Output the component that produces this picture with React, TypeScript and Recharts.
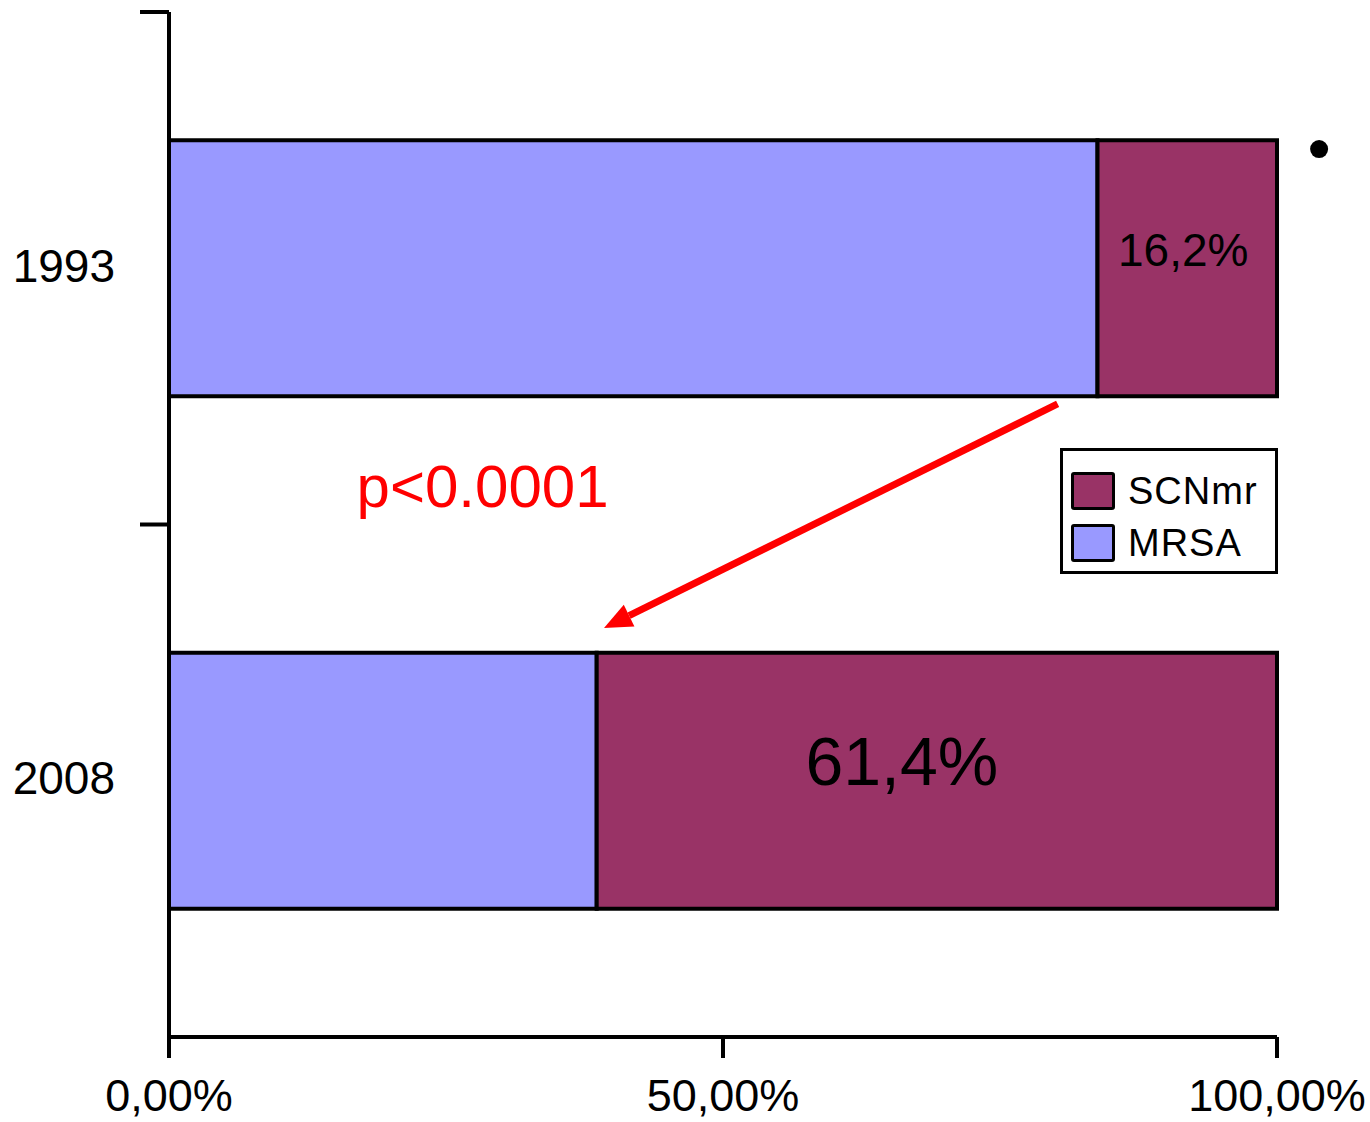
import React from 'react';
import * as Recharts from 'recharts';
import {
  BarChart,
  Bar,
  XAxis,
  YAxis,
  LabelList,
  ReferenceLine,
} from 'recharts';

// Share of isolates per study year (percent)
const years = ['1993', '2008'];
const mrsa = [83.8, 38.6];
const scnmr = [16.2, 61.4];
const xTicks = [0, 50, 100];
const seriesNames = ['SCNmr', 'MRSA'];
const pValueText = 'p<0.0001';

const rows = years.map((year, i) => ({ year, MRSA: mrsa[i], SCNmr: scnmr[i] }));

const FONT = '"Liberation Sans", Arial, sans-serif';
const MRSA_COLOR = '#9999FF';
const SCNMR_COLOR = '#993366';
const seriesColors: Record<string, string> = { SCNmr: SCNMR_COLOR, MRSA: MRSA_COLOR };

// per-row label styling
const labelSize = [46, 68];
const labelDx = [-4, -35];
const labelDy = [-18, -20];

const pct = (v: number) => `${v.toFixed(2).replace('.', ',')}%`;
const pctShort = (v: number) => `${v.toFixed(1).replace('.', ',')}%`;

const SegmentLabel = (props: any) => {
  const { x, y, width, height, value, index } = props;
  return (
    <text
      x={x + width / 2 + labelDx[index]}
      y={y + height / 2 + labelDy[index]}
      textAnchor="middle"
      dominantBaseline="central"
      fontFamily={FONT}
      fontSize={labelSize[index]}
      fill="#000"
    >
      {pctShort(value)}
    </text>
  );
};

// Small tick marks at the category boundaries, left of the value axis
const BoundaryTick = (props: any) => {
  const { x1, y1, x2, y2 } = props;
  if ([x1, y1, x2, y2].some((v) => typeof v !== 'number')) return null;
  return <line x1={x1 - 29} y1={y1} x2={x1} y2={y1} stroke="#000" strokeWidth={4} />;
};

const useArea = () => {
  const R: any = Recharts;
  const plot = R.usePlotArea ? R.usePlotArea() : null;
  const off = !plot && R.useOffset ? R.useOffset() : null;
  if (plot) return { x: plot.x, y: plot.y, w: plot.width, h: plot.height };
  if (off) return { x: off.left, y: off.top, w: off.width, h: off.height };
  return null;
};

// Annotation layer: significance text, arrow between the two years, bullet mark
const Annotations = () => {
  const a = useArea();
  if (!a) return null;
  const px = (f: number) => a.x + f * a.w;
  const py = (f: number) => a.y + f * a.h;
  const x1 = px(0.802), y1 = py(0.3824);
  const x2 = px(0.3926), y2 = py(0.601);
  const ang = Math.atan2(y2 - y1, x2 - x1);
  const len = 28, half = 12;
  const bx = x2 - len * Math.cos(ang);
  const by = y2 - len * Math.sin(ang);
  const nx = -Math.sin(ang) * half;
  const ny = Math.cos(ang) * half;
  return (
    <g>
      <line x1={x1} y1={y1} x2={bx} y2={by} stroke="#FF0000" strokeWidth={7} />
      <polygon points={`${x2},${y2} ${bx + nx},${by + ny} ${bx - nx},${by - ny}`} fill="#FF0000" />
      <text
        x={px(0.283)}
        y={py(0.4625)}
        textAnchor="middle"
        dominantBaseline="central"
        fontFamily={FONT}
        fontSize={60}
        fill="#FF0000"
      >
        {pValueText}
      </text>
      <circle cx={px(1.038)} cy={py(0.1337)} r={9} fill="#000" />
    </g>
  );
};

const LegendBox = () => (
  <div
    style={{
      position: 'absolute',
      left: 1060,
      top: 448,
      width: 218,
      height: 126,
      border: '3px solid #000',
      background: '#fff',
      boxSizing: 'border-box',
      padding: '14px 0 0 8px',
      fontFamily: FONT,
    }}
  >
    {seriesNames.map((name) => (
      <div key={name} style={{ display: 'flex', alignItems: 'center', height: 52 }}>
        <div
          style={{
            width: 44,
            height: 38,
            background: seriesColors[name],
            border: '3px solid #000',
            borderRadius: 3,
            boxSizing: 'border-box',
            marginRight: 13,
          }}
        />
        <span style={{ fontSize: 38, letterSpacing: 1, color: '#000', lineHeight: 1 }}>{name}</span>
      </div>
    ))}
  </div>
);

export default function App() {
  return (
    <div style={{ position: 'absolute', left: 0, top: 0, width: 1370, height: 1122, background: '#fff' }}>
      <BarChart
        width={1370}
        height={1122}
        data={rows}
        layout="vertical"
        margin={{ top: 12, right: 93, bottom: 0, left: 0 }}
        barCategoryGap="25%"
      >
        <XAxis
          type="number"
          domain={[0, 100]}
          ticks={xTicks}
          tickFormatter={pct}
          axisLine={{ stroke: '#000', strokeWidth: 4 }}
          tickLine={{ stroke: '#000', strokeWidth: 4 }}
          tickSize={21}
          tickMargin={21}
          height={85}
          tick={{ fill: '#000', fontSize: 45, fontFamily: FONT }}
          interval={0}
        />
        <YAxis
          type="category"
          dataKey="year"
          width={169}
          axisLine={{ stroke: '#000', strokeWidth: 4 }}
          tickLine={false}
          tickSize={0}
          tickMargin={54}
          tick={{ fill: '#000', fontSize: 46, fontFamily: FONT, dy: -3 }}
        />
        <Bar
          dataKey="MRSA"
          stackId="s"
          fill={MRSA_COLOR}
          stroke="#000"
          strokeWidth={4}
          isAnimationActive={false}
        />
        <Bar
          dataKey="SCNmr"
          stackId="s"
          fill={SCNMR_COLOR}
          stroke="#000"
          strokeWidth={4}
          isAnimationActive={false}
        >
          <LabelList dataKey="SCNmr" content={SegmentLabel} />
        </Bar>
        <ReferenceLine
          y={years[0]}
          position="start"
          ifOverflow="visible"
          shape={BoundaryTick}
        />
        <ReferenceLine
          y={years[1]}
          position="start"
          ifOverflow="visible"
          shape={BoundaryTick}
        />
        <Annotations />
      </BarChart>
      <LegendBox />
    </div>
  );
}
